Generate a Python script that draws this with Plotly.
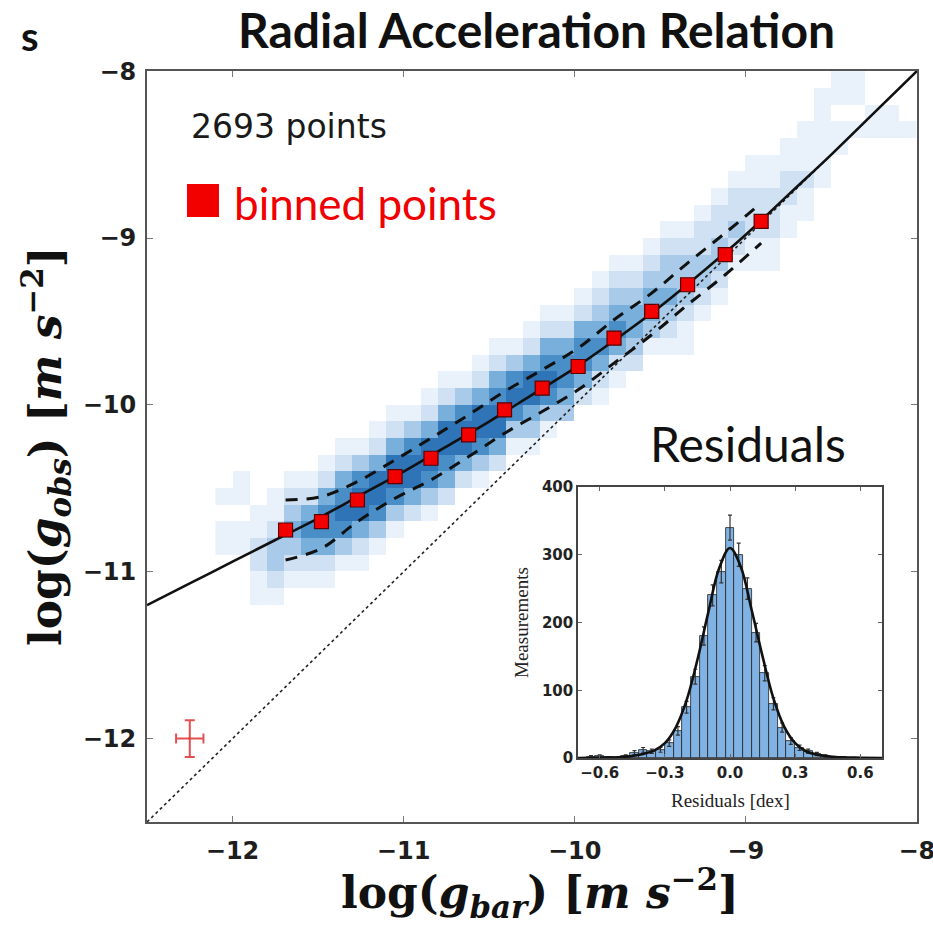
import numpy as np
import plotly.graph_objects as go

# ---------------- data ----------------
# binned points (red squares)
BIN_X = [-11.69, -11.48, -11.27, -11.05, -10.84, -10.62, -10.41, -10.19, -9.98, -9.77, -9.55, -9.34, -9.12, -8.91]
BIN_Y = [-10.75, -10.70, -10.57, -10.43, -10.32, -10.18, -10.03, -9.90, -9.77, -9.60, -9.44, -9.28, -9.10, -8.90]
# dashed scatter envelopes
UPPER_Y = [-10.57, -10.55, -10.46, -10.33, -10.20, -10.06, -9.92, -9.79, -9.66, -9.49, -9.33, -9.15, -8.97, -8.79]
LOWER_Y = [-10.93, -10.86, -10.70, -10.56, -10.45, -10.31, -10.17, -10.04, -9.91, -9.75, -9.58, -9.40, -9.22, -9.03]
# solid fitted relation
FIT_X = [-12.5, -12.25, -12.0, -11.75, -11.5, -11.25, -11.0, -10.75, -10.5, -10.25, -10.0, -9.75, -9.5, -9.25, -9.0, -8.75, -8.5, -8.25, -8.0]
FIT_Y = [-11.20, -11.07, -10.94, -10.81, -10.68, -10.54, -10.40, -10.25, -10.10, -9.94, -9.78, -9.60, -9.41, -9.20, -8.98, -8.74, -8.50, -8.25, -8.00]
# 1:1 line
ONE_X = [-12.5, -8.0]
ONE_Y = [-12.5, -8.0]
# typical error cross
ERR_X = [-12.25]
ERR_Y = [-12.0]
ERR_DX = [0.08]
ERR_DY = [0.11]
# 2D histogram: (column centre x, top cell centre y, density levels going down in 0.1 dex steps)
HEAT_COLS = [
    (-12.05, -10.55, "1011"),
    (-11.95, -10.45, "11011"),
    (-11.85, -10.65, "112211"),
    (-11.75, -10.55, "1123321"),
    (-11.65, -10.45, "1234321"),
    (-11.55, -10.45, "1245421"),
    (-11.45, -10.35, "12455421"),
    (-11.35, -10.25, "12456531"),
    (-11.25, -10.25, "13566421"),
    (-11.15, -10.15, "12466531"),
    (-11.05, -10.05, "12466531"),
    (-10.95, -10.05, "1356642"),
    (-10.85, -9.95, "12466531"),
    (-10.75, -9.85, "12466542"),
    (-10.65, -9.85, "1356642"),
    (-10.55, -9.75, "12466531"),
    (-10.45, -9.65, "12456642"),
    (-10.35, -9.65, "1356531"),
    (-10.25, -9.55, "12466431"),
    (-10.15, -9.45, "12456531"),
    (-10.05, -9.45, "1245543"),
    (-9.95, -9.35, "1245542"),
    (-9.85, -9.25, "12345421"),
    (-9.75, -9.15, "12345421"),
    (-9.65, -9.15, "1234432"),
    (-9.55, -9.05, "1234431"),
    (-9.45, -8.95, "12334321"),
    (-9.35, -8.95, "12333211"),
    (-9.25, -8.85, "1223321"),
    (-9.15, -8.75, "1223321"),
    (-9.05, -8.65, "122321"),
    (-8.95, -8.55, "1122211"),
    (-8.85, -8.55, "1122211"),
    (-8.75, -8.45, "112211"),
    (-8.65, -8.35, "111211"),
    (-8.55, -8.15, "111111"),
    (-8.45, -8.05, "11011"),
    (-8.35, -8.05, "1101"),
    (-8.25, -8.25, "11"),
    (-8.15, -8.25, "11"),
    (-8.05, -8.35, "1"),
]
HEAT_COLORS = ['#e9f1fa', '#cfe1f2', '#a9cae8', '#78afdb', '#4a8ec8', '#2f74b6']

# residual histogram (inset)
RES_X = [-0.68, -0.64, -0.60, -0.56, -0.52, -0.48, -0.44, -0.40, -0.36, -0.32, -0.28, -0.24,
         -0.20, -0.16, -0.12, -0.08, -0.04, 0.00, 0.04, 0.08, 0.12, 0.16, 0.20, 0.24,
         0.28, 0.32, 0.36, 0.40, 0.44, 0.48, 0.52, 0.56, 0.60, 0.64, 0.68]
RES_N = [0, 2, 3, 1, 0, 3, 8, 12, 10, 12, 22, 40,
         75, 120, 180, 240, 275, 340, 300, 250, 185, 125, 80, 45,
         25, 15, 10, 6, 3, 1, 1, 0, 0, 0, 0]
RES_E = [0, 1.4, 1.7, 1, 0, 1.7, 2.8, 3.5, 3.2, 3.5, 4.7, 6.3,
         8.7, 11, 13.4, 15.5, 16.6, 18.4, 17.3, 15.8, 13.6, 11.2, 8.9, 6.7,
         5, 3.9, 3.2, 2.4, 1.7, 1, 1, 0, 0, 0, 0]
CURVE_X = [-0.70, -0.60, -0.50, -0.45, -0.40, -0.35, -0.30, -0.25, -0.20, -0.15, -0.10, -0.05, 0.0,
           0.05, 0.10, 0.15, 0.20, 0.25, 0.30, 0.35, 0.40, 0.45, 0.50, 0.60, 0.70]
CURVE_Y = [0, 0.5, 1.5, 3, 6, 11, 22, 45, 85, 145, 215, 280, 310,
           282, 218, 150, 88, 46, 22, 10, 5, 2.5, 1.2, 0.4, 0]

MAIN_TICKS = [-12, -11, -10, -9, -8]
MAIN_TICKTEXT = ['\u221212', '\u221211', '\u221210', '\u22129', '\u22128']
RES_TICKS = [-0.6, -0.3, 0.0, 0.3, 0.6]
RES_TICKTEXT = ['\u22120.6', '\u22120.3', '0.0', '0.3', '0.6']
MEAS_TICKS = [0, 100, 200, 300, 400]

# ---------------- build heat grid ----------------
STEP = 0.1
gx = [round(-12.05 + STEP * i, 2) for i in range(41)]
gy = [round(-8.05 - STEP * j, 2) for j in range(37)]
Z = np.full((len(gy), len(gx)), np.nan)
for xc, ytop, lev in HEAT_COLS:
    ci = int(round((xc - gx[0]) / STEP))
    r0 = int(round((gy[0] - ytop) / STEP))
    for k, ch in enumerate(lev):
        v = int(ch)
        if v > 0 and 0 <= r0 + k < len(gy):
            Z[r0 + k, ci] = v
cs = []
n = len(HEAT_COLORS)
for i, c in enumerate(HEAT_COLORS):
    cs.append([i / n, c])
    cs.append([(i + 1) / n, c])

W, H = 933, 929
def px_x(p):
    return p / W
def px_y(p):
    return 1 - p / H

fig = go.Figure()
fig.add_trace(go.Heatmap(x=gx, y=gy, z=Z, colorscale=cs, zmin=0.5, zmax=6.5,
                         showscale=False, hoverinfo='skip', xaxis='x', yaxis='y'))
fig.add_trace(go.Scatter(x=ONE_X, y=ONE_Y, mode='lines',
                         line=dict(color='#222', width=1.6, dash='dot'), showlegend=False))
fig.add_trace(go.Scatter(x=FIT_X, y=FIT_Y, mode='lines', line_shape='spline',
                         line=dict(color='#111', width=2.6), showlegend=False))
fig.add_trace(go.Scatter(x=BIN_X, y=UPPER_Y, mode='lines', line_shape='spline',
                         line=dict(color='#111', width=3, dash='12px,9px'), showlegend=False))
fig.add_trace(go.Scatter(x=BIN_X, y=LOWER_Y, mode='lines', line_shape='spline',
                         line=dict(color='#111', width=3, dash='12px,9px'), showlegend=False))
fig.add_trace(go.Scatter(x=BIN_X, y=BIN_Y, mode='markers',
                         marker=dict(symbol='square', size=14, color='#f20000',
                                     line=dict(color='#5a0000', width=1.2)), showlegend=False))
fig.add_trace(go.Scatter(x=ERR_X, y=ERR_Y, mode='markers',
                         marker=dict(size=3, color='#e04848'),
                         error_x=dict(type='data', array=ERR_DX, color='#e45050', thickness=2, width=5),
                         error_y=dict(type='data', array=ERR_DY, color='#e45050', thickness=2, width=5),
                         showlegend=False))

# inset
fig.add_trace(go.Bar(x=RES_X, y=RES_N, width=0.04, xaxis='x2', yaxis='y2',
                     marker=dict(color='#80b2e3', line=dict(color='#222', width=0.8)),
                     error_y=dict(type='data', array=RES_E, color='#333', thickness=1.2, width=2),
                     showlegend=False))
fig.add_trace(go.Scatter(x=CURVE_X, y=CURVE_Y, mode='lines', line_shape='spline', xaxis='x2', yaxis='y2',
                         line=dict(color='#111', width=2.6), showlegend=False))

tickfont_main = dict(family='DejaVu Sans', size=24, color='#1e1e1e', weight='bold')
axis_common = dict(showgrid=False, zeroline=False, showline=True, linecolor='#555', linewidth=2,
                   mirror='ticks', ticks='inside', ticklen=6, tickcolor='#777', tickwidth=1,
                   automargin=False, ticklabeloverflow='allow')
inset_common = dict(tickfont=dict(family='DejaVu Sans', size=15, color='#222', weight='bold'),
                    showgrid=False, zeroline=False, showline=True, linecolor='#444', linewidth=1.5,
                    mirror='ticks', ticks='inside', ticklen=4, tickcolor='#666', automargin=False)

fig.update_layout(
    width=W, height=H, autosize=False,
    margin=dict(l=0, r=0, t=0, b=0, pad=0),
    paper_bgcolor='white', plot_bgcolor='white',
    showlegend=False,
    xaxis=dict(domain=[px_x(147), px_x(917)], range=[-12.5, -7.999], anchor='y',
               tickvals=MAIN_TICKS, ticktext=MAIN_TICKTEXT, tickfont=tickfont_main,
               ticklabelstandoff=6, **axis_common),
    yaxis=dict(domain=[px_y(822), px_y(71)], range=[-12.5, -7.999], anchor='x',
               tickvals=MAIN_TICKS, ticktext=MAIN_TICKTEXT, tickfont=tickfont_main,
               ticklabelstandoff=4, **axis_common),
    xaxis2=dict(domain=[px_x(578), px_x(882)], range=[-0.7, 0.7], anchor='y2',
                tickvals=RES_TICKS, ticktext=RES_TICKTEXT, **inset_common),
    yaxis2=dict(domain=[px_y(758), px_y(487)], range=[0, 400], anchor='x2',
                tickvals=MEAS_TICKS, **inset_common),
    bargap=0,
)

ann = []
def A(text, x, y, size, family, color='#111', xanchor='center', yanchor='middle', angle=0, weight='normal'):
    ann.append(dict(text=text, x=px_x(x), y=px_y(y), xref='paper', yref='paper', showarrow=False,
                    xanchor=xanchor, yanchor=yanchor, textangle=angle,
                    font=dict(size=size, family=family, color=color, weight=weight)))

A('Radial Acceleration Relation', 536, 30, 48, 'Lato', weight='bold')
A('s', 30, 36, 40, 'Lato', weight='bold')
A('2693 points', 189, 127, 33, 'DejaVu Sans', color='#1a1a1a', xanchor='left')
A('binned points', 232, 203, 44, 'Lato', color='#f00000', xanchor='left')
A('Residuals', 748, 443, 48, 'Lato', color='#111')
A('Residuals [dex]', 730, 800, 19, 'Liberation Serif', color='#222')
A('Measurements', 521, 623, 19, 'Liberation Serif', color='#222', angle=-90)
A('<b>log(<i>g</i><sub><i>bar</i></sub>) [<i>m s</i><sup>\u22122</sup>]</b>', 540, 893, 44, 'DejaVu Serif')
A('<b>log(<i>g</i><sub><i>obs</i></sub>) [<i>m s</i><sup>\u22122</sup>]</b>', 46, 446, 44, 'DejaVu Serif', angle=-90)
fig.update_layout(annotations=ann)

fig.add_shape(type='rect', xref='paper', yref='paper',
              x0=px_x(187), x1=px_x(219), y0=px_y(217), y1=px_y(184),
              fillcolor='#f20000', line=dict(width=0))

fig.write_html('out.html')
